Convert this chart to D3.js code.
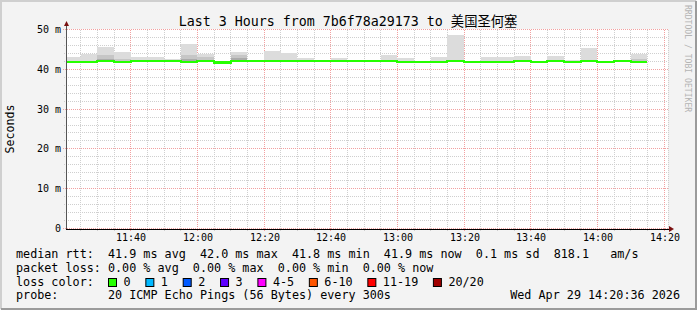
<!DOCTYPE html>
<html>
<head>
<meta charset="utf-8">
<script src="https://cdn.jsdelivr.net/npm/d3@7"></script>
<style>
  body { margin: 0; background: #f3f3f3; }
  svg { display: block; }
  text { font-family: "DejaVu Sans Mono", "Noto Sans CJK SC", monospace; fill: #000; }
</style>
</head>
<body>
<svg width="697" height="310"></svg>
<script>
// 5 minute slots (start times), values in ms
const slotTimes = [
  "11:20", "11:25", "11:30", "11:35", "11:40", "11:45", "11:50", "11:55",
  "12:00", "12:05", "12:10", "12:15", "12:20", "12:25", "12:30", "12:35",
  "12:40", "12:45", "12:50", "12:55", "13:00", "13:05", "13:10", "13:15",
  "13:20", "13:25", "13:30", "13:35", "13:40", "13:45", "13:50", "13:55",
  "14:00", "14:05", "14:10",
];
const medianRtt = [
  41.8, 41.8, 42.0, 41.8, 42.0, 42.0, 42.0, 41.8,
  42.0, 41.7, 42.0, 42.0, 42.0, 42.0, 42.0, 42.0,
  42.0, 42.0, 42.0, 42.0, 41.8, 41.8, 41.8, 42.0,
  41.9, 41.8, 41.8, 42.0, 41.8, 42.0, 41.8, 42.0,
  41.8, 42.0, 41.9,
];
const smokeMax = [
  43.1, 43.9, 45.6, 44.3, 43.2, 43.2, 42.6, 46.3,
  43.8, 41.8, 44.4, 42.1, 44.6, 44.0, 42.9, 42.1,
  42.9, 42.1, 42.1, 43.7, 42.8, 41.9, 43.1, 48.6,
  42.0, 43.1, 43.1, 43.4, 41.9, 43.4, 42.3, 45.4,
  41.9, 42.3, 43.8,
];
const smokeMid = [
  41.8, 41.8, 43.7, 42.6, 42.0, 42.0, 42.0, 43.7,
  43.0, 41.7, 43.5, 42.0, 42.0, 42.0, 42.0, 42.0,
  42.0, 42.0, 42.0, 42.0, 41.8, 41.8, 41.8, 42.0,
  41.9, 41.8, 41.8, 42.0, 41.8, 42.0, 41.8, 42.0,
  41.8, 42.0, 42.7,
];
const smokeCore = [
  41.8, 41.8, 42.6, 41.8, 42.0, 42.0, 42.0, 42.7,
  42.0, 41.7, 42.8, 42.0, 42.0, 42.0, 42.0, 42.0,
  42.0, 42.0, 42.0, 42.0, 41.8, 41.8, 41.8, 42.0,
  41.9, 41.8, 41.8, 42.0, 41.8, 42.0, 41.8, 42.0,
  41.8, 42.0, 41.9,
];
const smokeMin = [
  41.6, 41.6, 41.8, 41.6, 41.8, 41.8, 41.8, 41.6,
  41.8, 41.5, 41.8, 41.8, 41.8, 41.8, 41.8, 41.8,
  41.8, 41.8, 41.8, 41.8, 41.6, 41.6, 41.6, 41.8,
  41.7, 41.6, 41.6, 41.8, 41.6, 41.8, 41.6, 41.8,
  41.6, 41.8, 41.7,
];

const graphStart = "11:20:36";
const graphEnd = "14:20:36";
const xTickLabels = ["11:40", "12:00", "12:20", "12:40", "13:00", "13:20", "13:40", "14:00", "14:20"];
const yTickValues = [0, 10, 20, 30, 40, 50];
const yTickLabels = ["0", "10 m", "20 m", "30 m", "40 m", "50 m"];

const lossLabels = ["0", "1", "2", "3", "4-5", "6-10", "11-19", "20/20"];
const lossColors = ["#26ff00", "#00b8ff", "#0059ff", "#5e00ff", "#ff00ff", "#ff5500", "#ff0000", "#a00000"];

const titleText = "Last 3 Hours from 7b6f78a29173 to 美国圣何塞";
const rttLine = "median rtt:  41.9 ms avg  42.0 ms max  41.8 ms min  41.9 ms now  0.1 ms sd  818.1   am/s";
const lossLine = "packet loss: 0.00 % avg  0.00 % max  0.00 % min  0.00 % now";
const probeLine = "probe:       20 ICMP Echo Pings (56 Bytes) every 300s";
const stampText = "Wed Apr 29 14:20:36 2026";

function toDate(hm) {
  const p = hm.split(":").map(Number);
  return new Date(2026, 3, 29, p[0], p[1], p[2] || 0);
}

const svg = d3.select("svg");
const plotLeft = 66, plotRight = 666, plotTop = 29.5, plotBottom = 228.5;
const gridRight = 668;

const x = d3.scaleTime().domain([toDate(graphStart), toDate(graphEnd)]).range([plotLeft, plotRight]);
const y = d3.scaleLinear().domain([0, 50]).range([plotBottom, plotTop]);
const px = (v) => Math.floor(v) + 0.5;

// frame
svg.append("rect").attr("width", 697).attr("height", 310).attr("fill", "#f3f3f3");
svg.append("path").attr("d", "M1,309 V1 H696").attr("fill", "none").attr("stroke", "#cfcfcf").attr("stroke-width", 2);
svg.append("path").attr("d", "M1,309 H696 V1").attr("fill", "none").attr("stroke", "#9b9b9b").attr("stroke-width", 2);

// plot canvas
svg.append("rect")
  .attr("x", plotLeft).attr("y", plotTop - 0.5)
  .attr("width", gridRight - plotLeft).attr("height", plotBottom - plotTop + 1)
  .attr("fill", "#ffffff");

svg.append("clipPath").attr("id", "plot")
  .append("rect").attr("x", plotLeft).attr("y", 0).attr("width", plotRight - plotLeft).attr("height", plotBottom + 1);

// grid
const grid = svg.append("g").attr("shape-rendering", "crispEdges").attr("fill", "none");
const minorY = d3.range(0, 51, 2).filter((v) => v % 10 !== 0);
minorY.forEach((v) => {
  grid.append("line")
    .attr("x1", plotLeft - 2).attr("x2", gridRight)
    .attr("y1", px(y(v))).attr("y2", px(y(v)))
    .attr("stroke", "#cfcfcf").attr("stroke-dasharray", "1,1");
});
x.ticks(d3.timeMinute.every(5)).forEach((t) => {
  if (t.getMinutes() % 20 === 0) return;
  grid.append("line")
    .attr("x1", px(x(t))).attr("x2", px(x(t)))
    .attr("y1", plotTop).attr("y2", plotBottom + 2)
    .attr("stroke", "#cfcfcf").attr("stroke-dasharray", "1,1");
});
grid.append("line")
  .attr("x1", gridRight + 0.5).attr("x2", gridRight + 0.5)
  .attr("y1", plotTop).attr("y2", plotBottom)
  .attr("stroke", "#cfcfcf").attr("stroke-dasharray", "1,1");
yTickValues.forEach((v) => {
  grid.append("line")
    .attr("x1", plotLeft - 3).attr("x2", gridRight)
    .attr("y1", px(y(v))).attr("y2", px(y(v)))
    .attr("stroke", "#f2a0a0").attr("stroke-dasharray", "1,1");
});
xTickLabels.forEach((lab) => {
  const xx = px(x(toDate(lab)));
  grid.append("line")
    .attr("x1", xx).attr("x2", xx)
    .attr("y1", plotTop).attr("y2", plotBottom + 3)
    .attr("stroke", "#f2a0a0").attr("stroke-dasharray", "1,1");
});

// smoke
const smoke = svg.append("g").attr("clip-path", "url(#plot)").attr("shape-rendering", "crispEdges");
const slotEnd = (i) => d3.timeMinute.offset(toDate(slotTimes[i]), 5);
const bands = [
  [smokeMax, "#dcdcdc"],
  [smokeMid, "#c6c6c6"],
  [smokeCore, "#ababab"],
];
bands.forEach(([vals, colour]) => {
  smoke.selectAll(null)
    .data(slotTimes)
    .enter()
    .append("rect")
    .attr("x", (d) => Math.round(x(toDate(d))))
    .attr("width", (d, i) => Math.round(x(slotEnd(i))) - Math.round(x(toDate(d))))
    .attr("y", (d, i) => y(vals[i]))
    .attr("height", (d, i) => Math.max(0, y(smokeMin[i]) - y(vals[i])))
    .attr("fill", colour);
});

// median line
const medPoints = slotTimes.map((d, i) => [toDate(d), medianRtt[i]]);
medPoints.push([slotEnd(slotTimes.length - 1), medianRtt[medianRtt.length - 1]]);
smoke.append("path")
  .datum(medPoints)
  .attr("fill", "none")
  .attr("stroke", lossColors[0])
  .attr("stroke-width", 2.3)
  .attr("d", d3.line().x((d) => Math.round(x(d[0]))).y((d) => y(d[1])).curve(d3.curveStepAfter));

// axes
svg.append("line")
  .attr("x1", plotLeft + 0.5).attr("x2", plotLeft + 0.5)
  .attr("y1", plotBottom + 1).attr("y2", 25)
  .attr("stroke", "#555").attr("shape-rendering", "crispEdges");
svg.append("line")
  .attr("x1", plotLeft).attr("x2", gridRight + 1)
  .attr("y1", plotBottom + 0.5).attr("y2", plotBottom + 0.5)
  .attr("stroke", "#000").attr("shape-rendering", "crispEdges");
svg.append("path").attr("d", `M${plotLeft - 2},26 L${plotLeft + 0.5},21 L${plotLeft + 3},26 Z`).attr("fill", "#7a1010");
svg.append("path").attr("d", `M${gridRight + 1},${plotBottom - 2.5} L${gridRight + 6},${plotBottom + 0.5} L${gridRight + 1},${plotBottom + 3.5} Z`).attr("fill", "#7a1010");

// tick labels
yTickValues.forEach((v, i) => {
  svg.append("text")
    .text(yTickLabels[i])
    .attr("x", 61)
    .attr("y", px(y(v)) + 3.5)
    .attr("text-anchor", "end")
    .style("font-size", "10px");
});
xTickLabels.forEach((lab) => {
  svg.append("text")
    .text(lab)
    .attr("x", px(x(toDate(lab))) + 0.5)
    .attr("y", 240.5)
    .attr("text-anchor", "middle")
    .style("font-size", "10px");
});

// titles
svg.append("text")
  .text(titleText)
  .attr("x", 348)
  .attr("y", 26)
  .attr("text-anchor", "middle")
  .style("font-size", "13.3px");
svg.append("text")
  .text("Seconds")
  .attr("transform", "translate(14,129) rotate(-90)")
  .attr("text-anchor", "middle")
  .style("font-size", "11.6px");
svg.append("text")
  .text("RRDTOOL / TOBI OETIKER")
  .attr("transform", "translate(685,5) rotate(90)")
  .style("font-size", "8.1px")
  .style("fill", "#b4b4b4");

// legend
const legendFont = "11.75px";
[[rttLine, 257.7], [lossLine, 271.7], [probeLine, 299.3]].forEach(([str, yy]) => {
  svg.append("text")
    .text(str)
    .attr("x", 16)
    .attr("y", yy)
    .attr("xml:space", "preserve")
    .style("white-space", "pre")
    .style("font-size", legendFont);
});
svg.append("text")
  .text(stampText)
  .attr("x", 680)
  .attr("y", 299.3)
  .attr("text-anchor", "end")
  .style("font-size", legendFont);
svg.append("text")
  .text("loss color:")
  .attr("x", 16)
  .attr("y", 285.7)
  .style("font-size", legendFont);

let sx = 108.5;
lossLabels.forEach((lab, i) => {
  svg.append("rect")
    .attr("x", sx).attr("y", 278.5)
    .attr("width", 8).attr("height", 8)
    .attr("fill", lossColors[i])
    .attr("stroke", "#000");
  svg.append("text")
    .text(lab)
    .attr("x", sx + 15)
    .attr("y", 285.7)
    .style("font-size", legendFont);
  sx += 30.3 + 7.05 * lab.length;
});
</script>
</body>
</html>
